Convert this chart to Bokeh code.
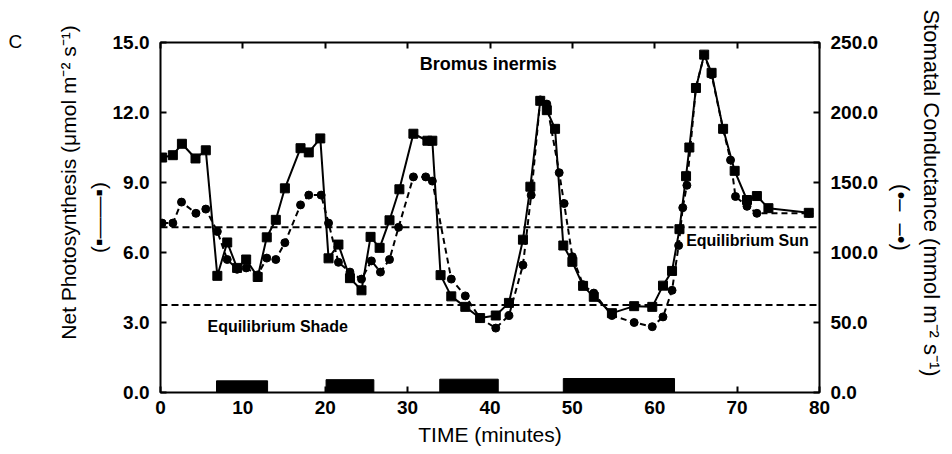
from bokeh.plotting import figure
from bokeh.models import (Range1d, LinearAxis, FixedTicker, NumeralTickFormatter,
                          Span, Label, CustomLabelingPolicy)
from bokeh.embed import file_html
from bokeh.resources import INLINE

# ---------------- data ----------------
phot_t = [0.2, 1.5, 2.6, 4.25, 5.5, 6.9, 8.1, 9.3, 10.4, 11.8, 12.9, 14.0, 15.1,
          17.0, 18.0, 19.4, 20.4, 21.6, 23.0, 24.4, 25.5, 26.6, 27.8, 29.0, 30.7,
          32.4, 33.0, 34.0, 35.3, 37.0, 38.8, 40.7, 42.3, 44.0, 44.9, 46.1, 46.9,
          47.9, 48.9, 50.0, 51.3, 52.6, 54.8, 57.5, 59.7, 61.0, 62.1, 63.0, 63.8,
          64.2, 65.0, 66.0, 66.9, 68.3, 69.7, 71.2, 72.4, 73.8, 78.7]
phot_v = [10.07, 10.17, 10.66, 10.03, 10.38, 5.0, 6.43, 5.34, 5.70, 4.95, 6.65, 7.40, 8.75,
          10.47, 10.29, 10.89, 5.75, 6.34, 4.9, 4.38, 6.67, 6.2, 7.38, 8.71, 11.09,
          10.79, 10.79, 5.03, 4.12, 3.67, 3.19, 3.30, 3.84, 6.55, 8.82, 12.5, 12.1,
          11.3, 6.3, 5.6, 4.57, 4.1, 3.4, 3.70, 3.67, 4.58, 5.21, 7.0, 9.27,
          10.5, 13.05, 14.48, 13.7, 11.3, 9.5, 8.25, 8.42, 7.9, 7.7]

cond_t = [0.2, 1.5, 2.55, 4.3, 5.5, 6.9, 8.1, 9.3, 10.4, 11.8, 12.9, 14.0, 15.1,
          17.0, 18.0, 19.5, 20.4, 21.6, 23.0, 24.4, 25.6, 26.7, 27.8, 28.9, 30.7,
          32.2, 33.0, 35.3, 37.0, 38.8, 40.7, 42.3, 44.0, 45.0, 46.1, 46.9, 48.4,
          49.0, 50.0, 51.3, 52.6, 54.8, 57.5, 59.7, 61.0, 62.1, 62.9, 63.4, 63.9,
          65.0, 66.0, 66.9, 68.3, 69.2, 69.8, 71.2, 72.4, 78.7]
cond_v = [121, 121, 136, 128, 131, 115, 95, 88, 89, 84, 96, 95, 107,
          134, 141, 141, 121, 93, 86, 81, 94, 86, 95, 118, 154,
          154, 151, 81, 69, 53, 46, 55, 91, 141, 209, 206, 157,
          135, 97, 77, 71, 55, 50, 47, 54, 73, 105, 132, 148,
          218, 241, 227, 188, 166, 140, 133, 128, 128]

shade_start = [6.8, 20.1, 33.9, 48.9]
shade_end = [13.0, 25.9, 41.0, 62.4]
shade_top = [0.5, 0.55, 0.57, 0.6]

eq_sun = 118.0
eq_shade = 62.5

x_ticks = [0, 10, 20, 30, 40, 50, 60, 70, 80]
left_ticks = [0, 3, 6, 9, 12, 15]
right_ticks = [0, 50, 100, 150, 200, 250]

FONT = "Liberation Sans"
NB = "\u00a0"

# ---------------- figure ----------------
p = figure(width=952, height=454, output_backend="svg", toolbar_location=None,
           x_range=Range1d(0, 80), y_range=Range1d(0, 15),
           min_border_left=160, min_border_right=133,
           min_border_top=42, min_border_bottom=62)
p.extra_y_ranges = {"cond": Range1d(0, 250)}
p.grid.visible = False
p.outline_line_color = "black"
p.outline_line_width = 2
p.background_fill_color = "white"
p.border_fill_color = "white"

# panel label "C"
p.title.text = "C"
p.title.align = "left"
p.title.offset = -152
p.title.standoff = -27
p.title.text_font = FONT
p.title.text_font_size = "19px"
p.title.text_font_style = "normal"
p.title.text_color = "black"


def style(ax):
    ax.axis_line_color = None
    ax.major_tick_in = 6
    ax.major_tick_out = 0
    ax.major_tick_line_width = 2
    ax.major_tick_line_color = "black"
    ax.minor_tick_line_color = None
    ax.major_label_text_font = FONT
    ax.major_label_text_font_style = "bold"
    ax.major_label_text_color = "black"
    ax.major_label_text_font_size = "19px"
    ax.major_label_standoff = 11
    ax.axis_label_text_font = FONT
    ax.axis_label_text_font_size = "21px"
    ax.axis_label_text_font_style = "normal"
    ax.axis_label_text_color = "black"
    ax.axis_label_text_line_height = 1.3


xa = p.xaxis[0]
xa.ticker = FixedTicker(ticks=x_ticks)
xa.formatter = NumeralTickFormatter(format="0")
style(xa)
xa.major_label_standoff = 8
xa.axis_label = "TIME (minutes)"
xa.axis_label_text_font_size = "21px"
xa.axis_label_standoff = 6

ya = p.yaxis[0]
ya.ticker = FixedTicker(ticks=left_ticks)
ya.formatter = NumeralTickFormatter(format="0.0")
style(ya)
ya.axis_label = (NB * 12 + "Net Photosynthesis (\u03bcmol m\u207b\u00b2 s\u207b\u00b9)\n"
                 "(\u25aa\u2014\u2014\u25aa)")
ya.axis_label_standoff = 0

ra = LinearAxis(y_range_name="cond", ticker=FixedTicker(ticks=right_ticks),
                formatter=NumeralTickFormatter(format="0.0"))
style(ra)
ra.axis_label = ("Stomatal Conductance (mmol m\u207b\u00b2 s\u207b\u00b9)" + NB * 8 +
                 "\n(\u2022\u2013" + NB * 2 + "\u2013\u2022)")
ra.axis_label_text_font_size = "22px"
ra.axis_label_text_line_height = 1.2
ra.axis_label_standoff = 8
p.add_layout(ra, "right")

ta = LinearAxis(ticker=FixedTicker(ticks=x_ticks))
style(ta)
ta.major_label_standoff = 0
ta.major_label_text_font_size = "1px"
ta.major_label_policy = CustomLabelingPolicy(code="""
    for (const i of Array.from(indices)) indices.unset(i)
    return indices
""")
p.add_layout(ta, "above")

# equilibrium lines
for loc in (eq_sun, eq_shade):
    p.add_layout(Span(location=loc, dimension="width", y_range_name="cond",
                      line_color="black", line_width=2, line_dash="7 4"))

# shade period bars
p.quad(left=shade_start, right=shade_end, bottom=0, top=shade_top,
       fill_color="black", line_color="black")

# conductance (dashed, circles)
p.line(cond_t, cond_v, y_range_name="cond", line_color="black", line_width=2,
       line_dash="6 4")
p.scatter(cond_t, cond_v, y_range_name="cond", marker="circle", size=8,
          fill_color="black", line_color="black")

# photosynthesis (solid, squares)
p.line(phot_t, phot_v, line_color="black", line_width=2)
p.scatter(phot_t, phot_v, marker="square", size=9,
          fill_color="black", line_color="black")


def lab(x, y, text, size="18px", style="normal", align="center"):
    p.add_layout(Label(x=x, y=y, text=text, text_align=align,
                       text_baseline="middle", text_font=FONT, text_font_size=size,
                       text_font_style=style, text_color="black"))


lab(39.8, 14.1, "Bromus inermis", size="18px", style="bold")
lab(78.7, 6.5, "Equilibrium Sun", size="16px", style="bold", align="right")
lab(5.7, 2.85, "Equilibrium Shade", size="16px", style="bold", align="left")

open("out.html", "w").write(file_html(p, INLINE))
